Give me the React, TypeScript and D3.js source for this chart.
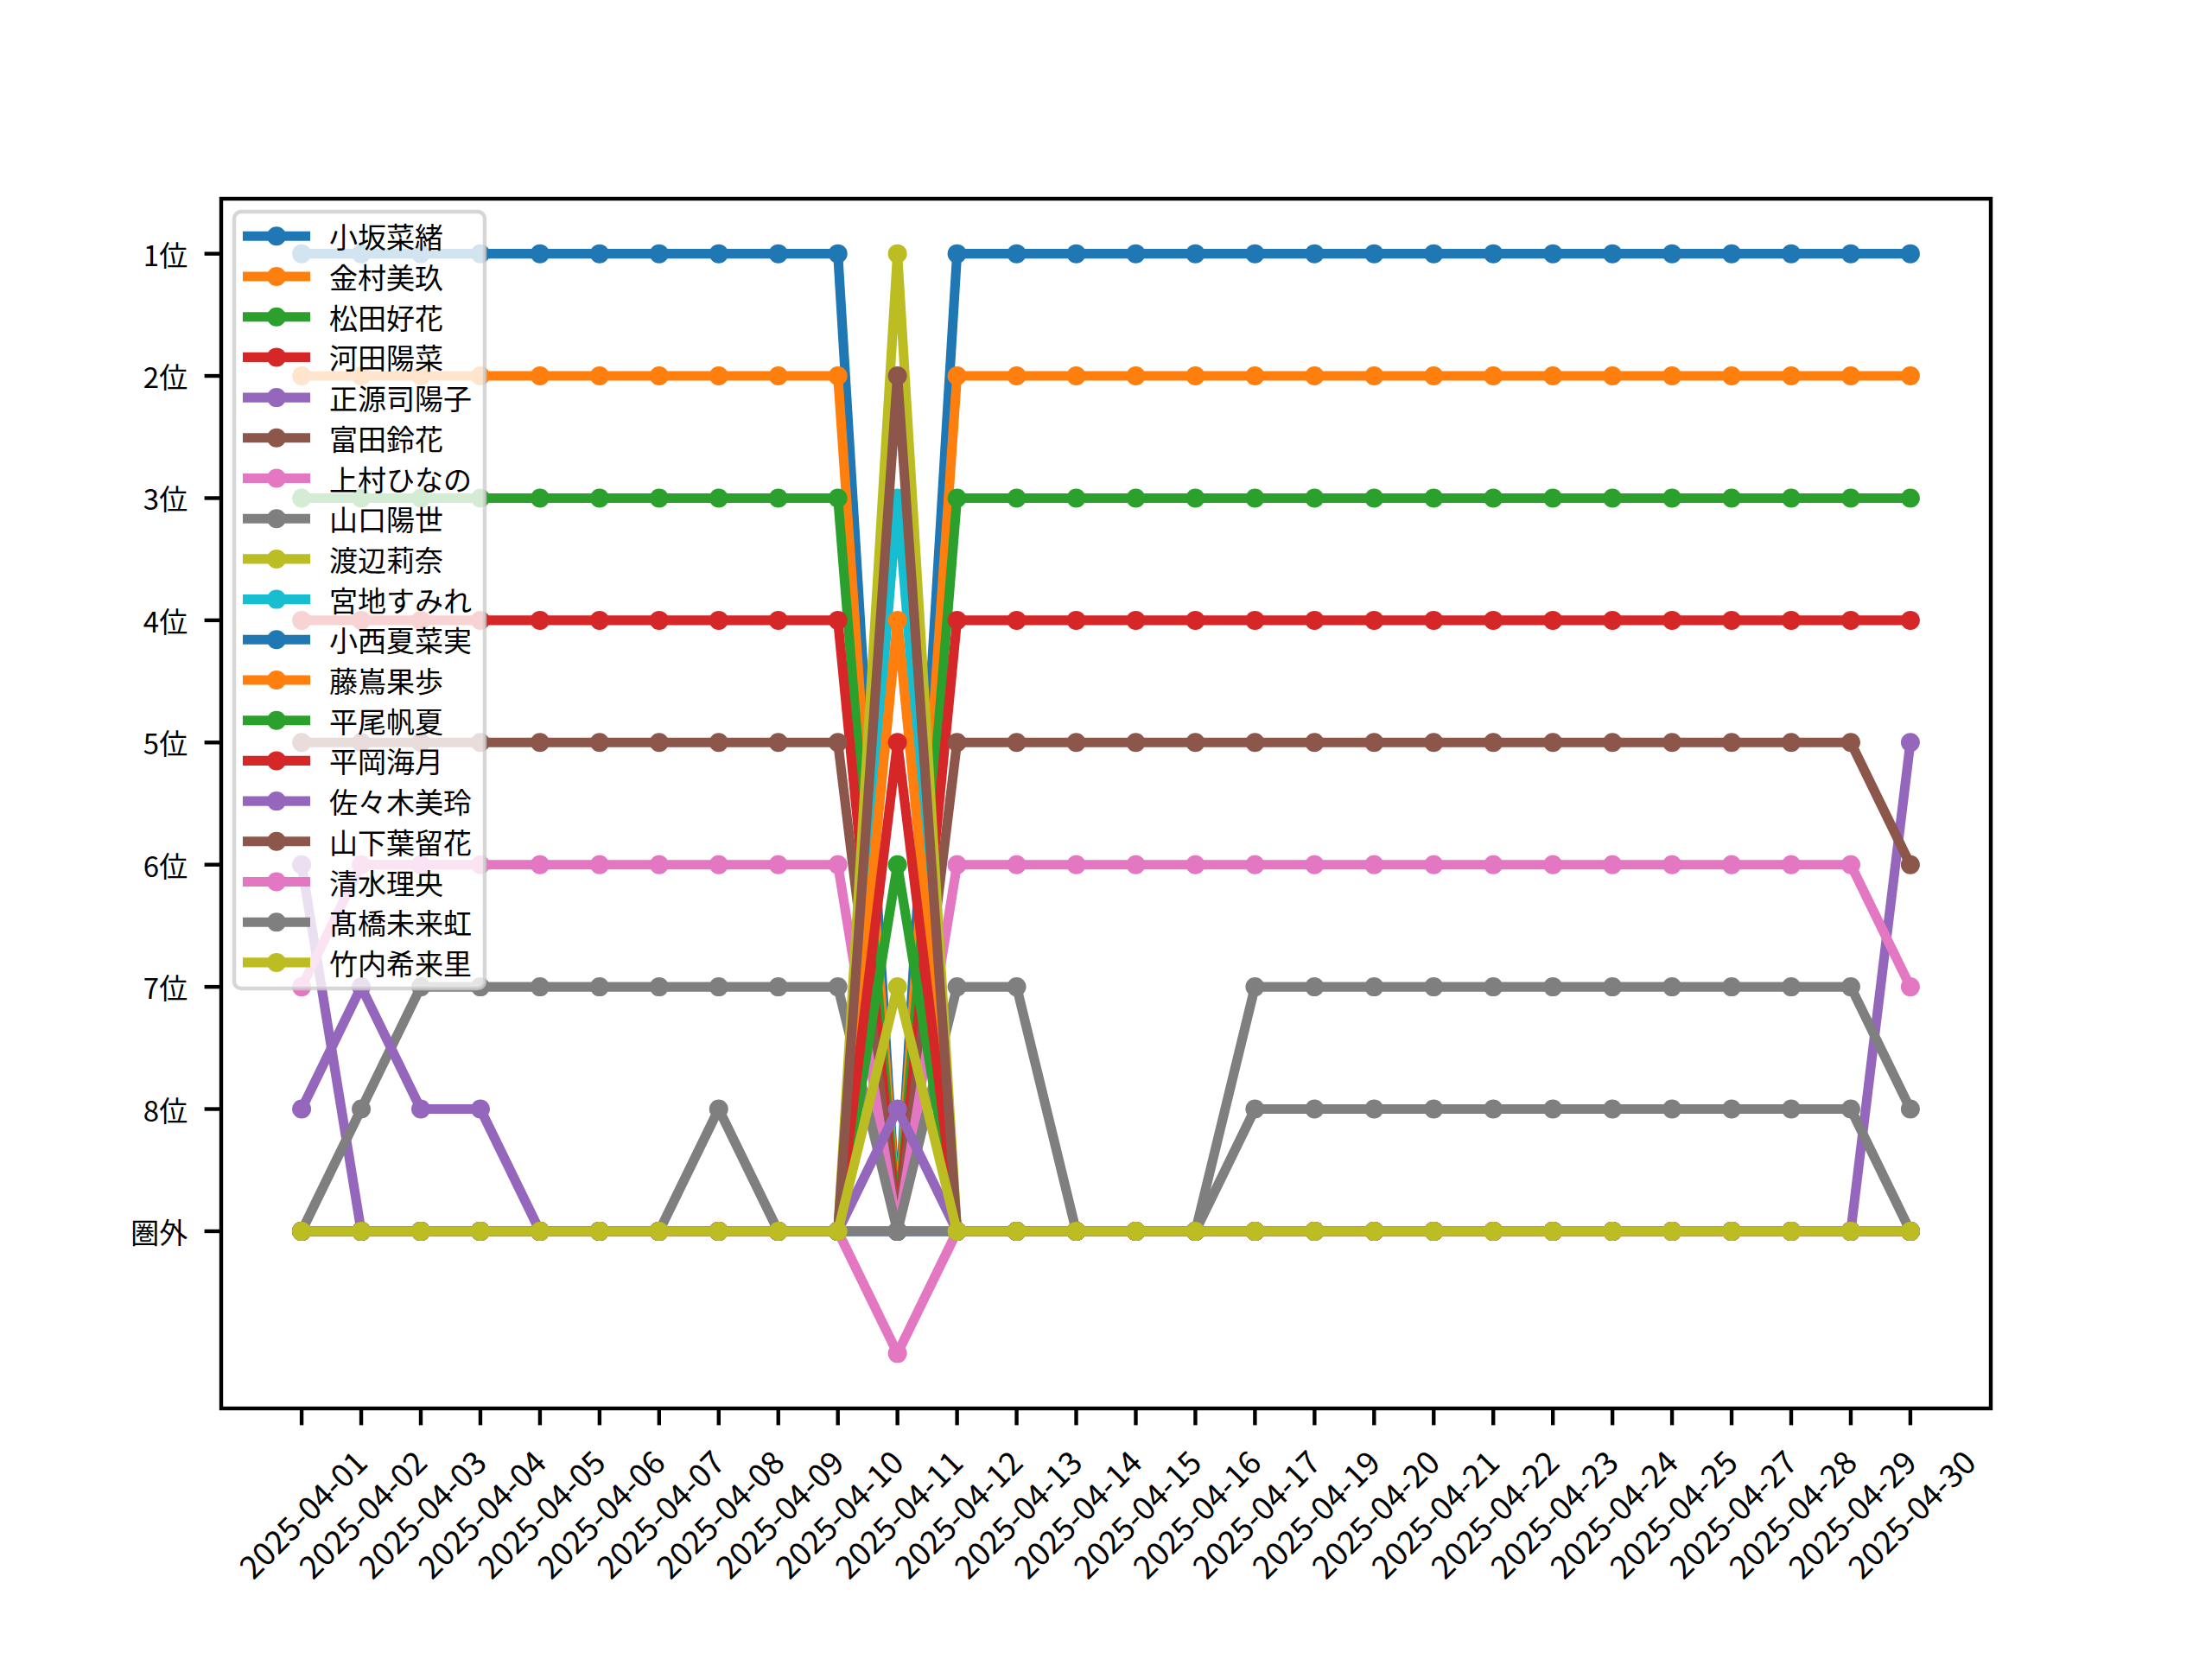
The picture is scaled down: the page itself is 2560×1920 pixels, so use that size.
import React from "react";
import * as d3 from "d3";

const dates = [
  "2025-04-01", "2025-04-02", "2025-04-03", "2025-04-04", "2025-04-05", "2025-04-06", "2025-04-07",
  "2025-04-08", "2025-04-09", "2025-04-10", "2025-04-11", "2025-04-12", "2025-04-13", "2025-04-14",
  "2025-04-15", "2025-04-16", "2025-04-17", "2025-04-19", "2025-04-20", "2025-04-21", "2025-04-22",
  "2025-04-23", "2025-04-24", "2025-04-25", "2025-04-27", "2025-04-28", "2025-04-29", "2025-04-30",
];

const yTickValues = [1, 2, 3, 4, 5, 6, 7, 8, 9];
const yTickLabels = ["1位", "2位", "3位", "4位", "5位", "6位", "7位", "8位", "圏外"];

const names = [
  "小坂菜緒", "金村美玖", "松田好花", "河田陽菜", "正源司陽子", "富田鈴花", "上村ひなの", "山口陽世",
  "渡辺莉奈", "宮地すみれ", "小西夏菜実", "藤嶌果歩", "平尾帆夏", "平岡海月", "佐々木美玲",
  "山下葉留花", "清水理央", "髙橋未来虹", "竹内希来里",
];

// ranks per date (9 = 圏外)
const kosaka = [1, 1, 1, 1, 1, 1, 1, 1, 1, 1, 9, 1, 1, 1, 1, 1, 1, 1, 1, 1, 1, 1, 1, 1, 1, 1, 1, 1];
const kanemura = [2, 2, 2, 2, 2, 2, 2, 2, 2, 2, 9, 2, 2, 2, 2, 2, 2, 2, 2, 2, 2, 2, 2, 2, 2, 2, 2, 2];
const matsuda = [3, 3, 3, 3, 3, 3, 3, 3, 3, 3, 9, 3, 3, 3, 3, 3, 3, 3, 3, 3, 3, 3, 3, 3, 3, 3, 3, 3];
const kawata = [4, 4, 4, 4, 4, 4, 4, 4, 4, 4, 9, 4, 4, 4, 4, 4, 4, 4, 4, 4, 4, 4, 4, 4, 4, 4, 4, 4];
const shogenji = [6, 9, 9, 9, 9, 9, 9, 9, 9, 9, 9, 9, 9, 9, 9, 9, 9, 9, 9, 9, 9, 9, 9, 9, 9, 9, 9, 5];
const tomita = [5, 5, 5, 5, 5, 5, 5, 5, 5, 5, 9, 5, 5, 5, 5, 5, 5, 5, 5, 5, 5, 5, 5, 5, 5, 5, 5, 6];
const kamimura = [7, 6, 6, 6, 6, 6, 6, 6, 6, 6, 9, 6, 6, 6, 6, 6, 6, 6, 6, 6, 6, 6, 6, 6, 6, 6, 6, 7];
const yamaguchi = [9, 8, 7, 7, 7, 7, 7, 7, 7, 7, 9, 7, 7, 9, 9, 9, 7, 7, 7, 7, 7, 7, 7, 7, 7, 7, 7, 8];
const watanabe = [9, 9, 9, 9, 9, 9, 9, 9, 9, 9, 1, 9, 9, 9, 9, 9, 9, 9, 9, 9, 9, 9, 9, 9, 9, 9, 9, 9];
const miyachi = [9, 9, 9, 9, 9, 9, 9, 9, 9, 9, 3, 9, 9, 9, 9, 9, 9, 9, 9, 9, 9, 9, 9, 9, 9, 9, 9, 9];
const konishi = [9, 9, 9, 9, 9, 9, 9, 9, 9, 9, 9, 9, 9, 9, 9, 9, 9, 9, 9, 9, 9, 9, 9, 9, 9, 9, 9, 9];
const fujishima = [9, 9, 9, 9, 9, 9, 9, 9, 9, 9, 4, 9, 9, 9, 9, 9, 9, 9, 9, 9, 9, 9, 9, 9, 9, 9, 9, 9];
const hiraoH = [9, 9, 9, 9, 9, 9, 9, 9, 9, 9, 6, 9, 9, 9, 9, 9, 9, 9, 9, 9, 9, 9, 9, 9, 9, 9, 9, 9];
const hiraokaM = [9, 9, 9, 9, 9, 9, 9, 9, 9, 9, 5, 9, 9, 9, 9, 9, 9, 9, 9, 9, 9, 9, 9, 9, 9, 9, 9, 9];
const sasaki = [8, 7, 8, 8, 9, 9, 9, 9, 9, 9, 8, 9, 9, 9, 9, 9, 9, 9, 9, 9, 9, 9, 9, 9, 9, 9, 9, 9];
const yamashita = [9, 9, 9, 9, 9, 9, 9, 9, 9, 9, 2, 9, 9, 9, 9, 9, 9, 9, 9, 9, 9, 9, 9, 9, 9, 9, 9, 9];
const shimizu = [9, 9, 9, 9, 9, 9, 9, 9, 9, 9, 10, 9, 9, 9, 9, 9, 9, 9, 9, 9, 9, 9, 9, 9, 9, 9, 9, 9];
const takahashi = [9, 9, 9, 9, 9, 9, 9, 8, 9, 9, 9, 9, 9, 9, 9, 9, 8, 8, 8, 8, 8, 8, 8, 8, 8, 8, 8, 9];
const takeuchi = [9, 9, 9, 9, 9, 9, 9, 9, 9, 9, 7, 9, 9, 9, 9, 9, 9, 9, 9, 9, 9, 9, 9, 9, 9, 9, 9, 9];

const seriesValues = [
  kosaka, kanemura, matsuda, kawata, shogenji, tomita, kamimura, yamaguchi, watanabe, miyachi,
  konishi, fujishima, hiraoH, hiraokaM, sasaki, yamashita, shimizu, takahashi, takeuchi,
];

const palette = d3.schemeCategory10;

const W = 2560;
const H = 1920;
const AX = { left: 256, right: 2304, top: 230, bottom: 1630 };
const FONT = "'Noto Sans CJK JP', 'Noto Sans', sans-serif";
const FS = 33;
const FSX = 37;

export default function App() {
  const n = dates.length;
  const x = d3.scaleLinear().domain([-1.35, n - 1 + 1.35]).range([AX.left, AX.right]);
  const y = d3.scaleLinear().domain([0.55, 10.45]).range([AX.top, AX.bottom]);
  const line = d3
    .line<number>()
    .x((_, i) => x(i))
    .y((v) => y(v));

  const tickLen = 19.4;
  const tickW = 4.4;
  const lw = 11.1;
  const mr = 11;

  const legX = 271;
  const legY = 245;
  const legW = 290;
  const legH = 899;
  const rowY0 = 273.3;
  const rowDy = 46.7;

  return (
    <svg
      width={W}
      height={H}
      viewBox={`0 0 ${W} ${H}`}
      style={{ position: "absolute", left: 0, top: 0, display: "block", background: "#fff" }}
      fontFamily={FONT}
    >
      <rect x={0} y={0} width={W} height={H} fill="#fff" />
      {/* series */}
      <g>
        {seriesValues.map((vals, si) => {
          const c = palette[si % 10];
          return (
            <g key={si}>
              <path d={line(vals) || ""} fill="none" stroke={c} strokeWidth={lw} strokeLinejoin="round" strokeLinecap="butt" />
              {vals.map((v, i) => (
                <circle key={i} cx={x(i)} cy={y(v)} r={mr} fill={c} />
              ))}
            </g>
          );
        })}
      </g>
      {/* spines */}
      <rect
        x={AX.left}
        y={AX.top}
        width={AX.right - AX.left}
        height={AX.bottom - AX.top}
        fill="none"
        stroke="#000"
        strokeWidth={tickW}
        strokeLinejoin="miter"
      />
      {/* y ticks */}
      {yTickValues.map((v, i) => (
        <g key={`yt${i}`}>
          <line x1={AX.left - tickLen} x2={AX.left} y1={y(v)} y2={y(v)} stroke="#000" strokeWidth={tickW} />
          <text x={AX.left - tickLen - 19.4} y={y(v)} textAnchor="end" dominantBaseline="central" fontSize={FS} fill="#000">
            {yTickLabels[i]}
          </text>
        </g>
      ))}
      {/* x ticks */}
      {dates.map((d, i) => (
        <g key={`xt${i}`}>
          <line x1={x(i)} x2={x(i)} y1={AX.bottom} y2={AX.bottom + tickLen} stroke="#000" strokeWidth={tickW} />
          <text
            transform={`translate(${x(i)},1751) rotate(-45)`}
            textAnchor="middle"
            dominantBaseline="central"
            fontSize={FSX}
            fill="#000"
          >
            {d}
          </text>
        </g>
      ))}
      {/* legend */}
      <g>
        <rect x={legX} y={legY} width={legW} height={legH} rx={8} ry={8} fill="#fff" fillOpacity={0.8} stroke="#cccccc" strokeOpacity={0.8} strokeWidth={4.4} />
        {names.map((nm, i) => {
          const c = palette[i % 10];
          const ry = rowY0 + i * rowDy;
          return (
            <g key={`lg${i}`}>
              <line x1={281} x2={359} y1={ry} y2={ry} stroke={c} strokeWidth={lw} />
              <circle cx={320} cy={ry} r={mr} fill={c} />
              <text x={381} y={ry} dominantBaseline="central" fontSize={FS} fill="#000">
                {nm}
              </text>
            </g>
          );
        })}
      </g>
    </svg>
  );
}
